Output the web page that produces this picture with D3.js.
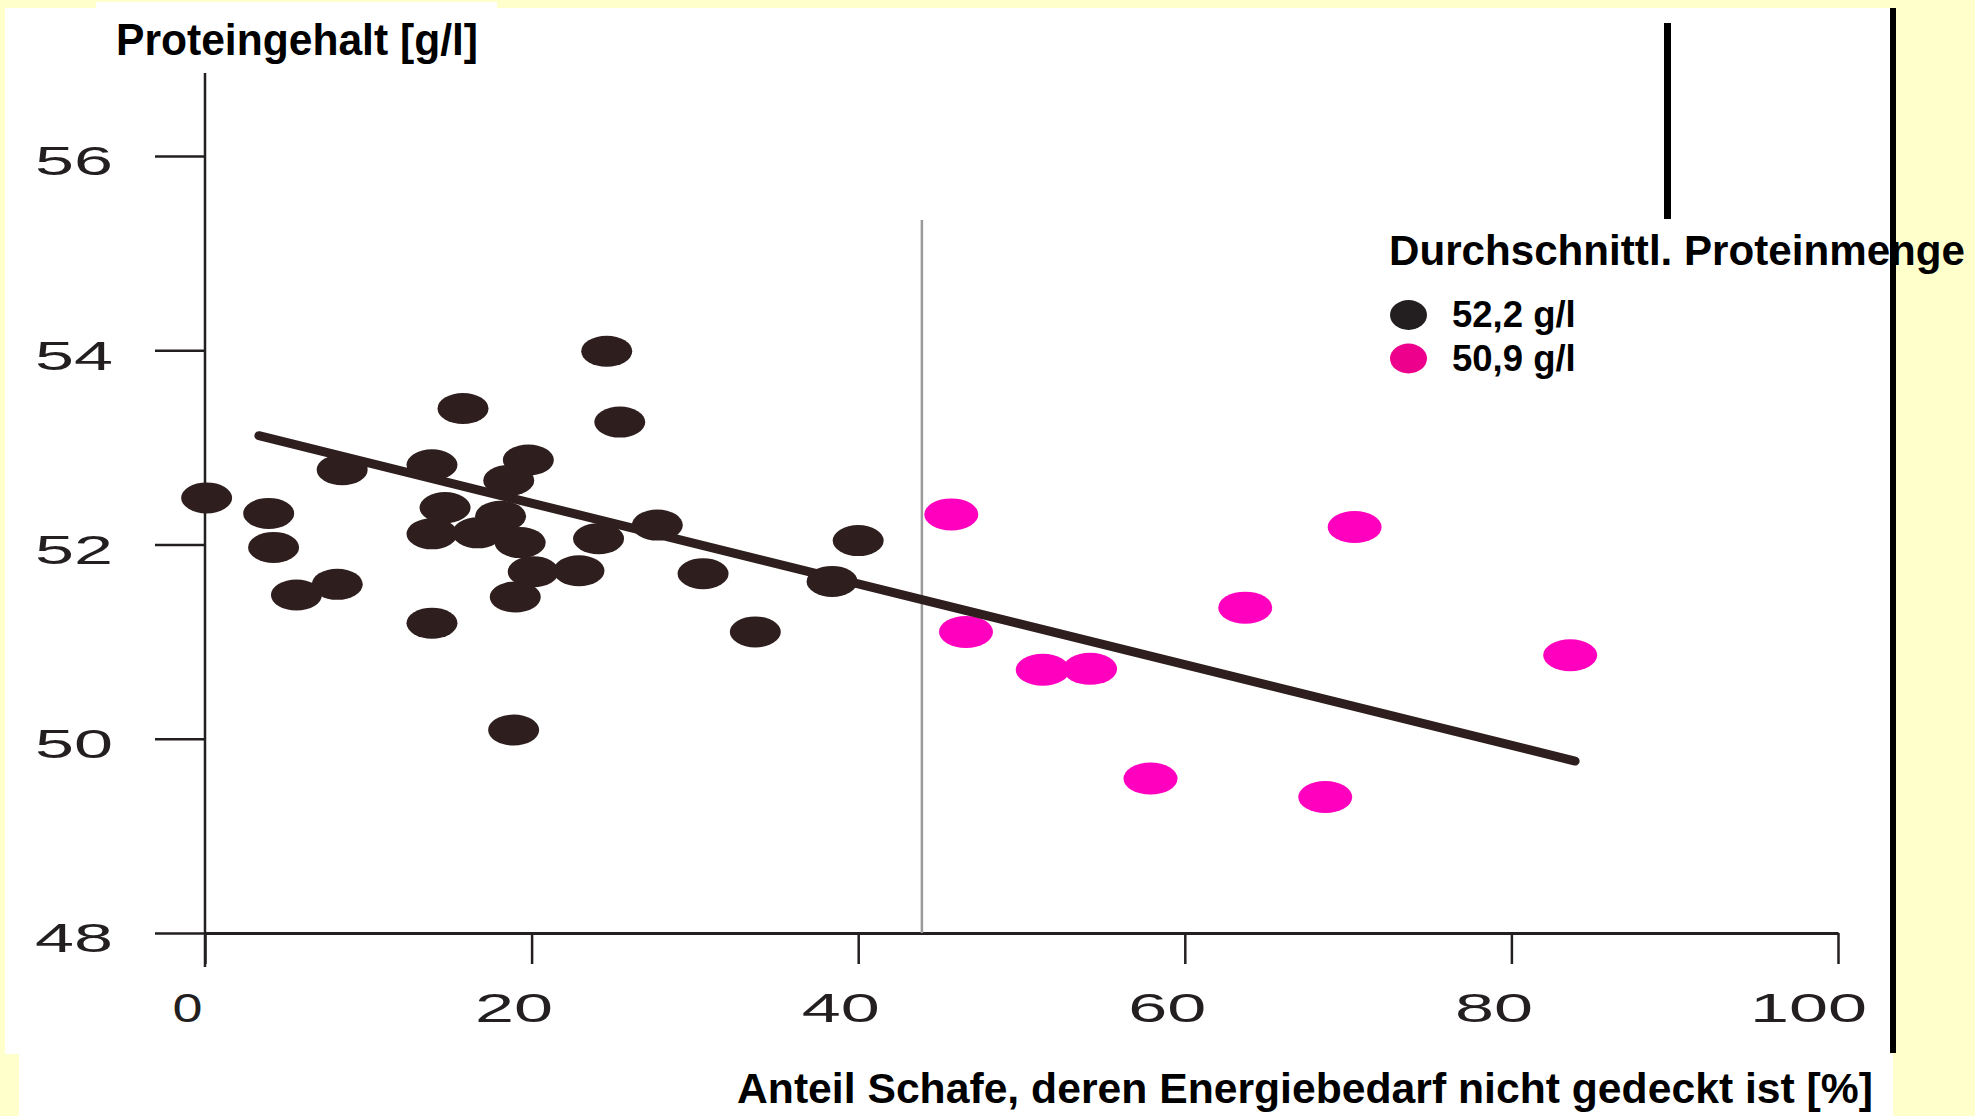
<!DOCTYPE html>
<html>
<head>
<meta charset="utf-8">
<script src="https://cdn.jsdelivr.net/npm/d3@7"></script>
<style>
  body { margin: 0; background: #ffffcc; }
  svg { display: block; }
  .tick text { font-family: "Liberation Sans", Arial, sans-serif; fill: #231f20; }
  .ttl { font-family: "Liberation Sans", Arial, sans-serif; font-weight: bold; fill: #000; }
</style>
</head>
<body>
<div id="vis"></div>
<script>
// sheep with energy deficit (%) vs protein content (g/l)
const darkX = [15.8, 25.4, 8.4, 13.9, 19.8, 18.6, 0.1, 3.9, 14.7, 18.1, 4.2, 13.9, 16.7, 19.3,
  24.1, 27.7, 40.0, 8.1, 5.6, 20.1, 22.9, 30.5, 38.4, 19.0, 13.9, 33.7, 18.9, 24.6];
const darkY = [53.40, 53.26, 52.77, 52.82, 52.87, 52.66, 52.48, 52.32, 52.38, 52.29, 51.97, 52.11, 52.12, 52.02,
  52.06, 52.20, 52.04, 51.59, 51.48, 51.72, 51.73, 51.70, 51.62, 51.46, 51.19, 51.10, 50.09, 53.99];
const pinkX = [45.7, 70.4, 63.7, 46.6, 83.6, 51.3, 54.2, 57.9, 68.6];
const pinkY = [52.31, 52.18, 51.35, 51.10, 50.86, 50.71, 50.72, 49.59, 49.40];
const trendX = [3.3, 83.9];
const trendY = [53.12, 49.77];
const cutoffX = 43.9, cutoffTop = 55.34;
const xTicks = [0, 20, 40, 60, 80, 100];
const yTicks = [48, 50, 52, 54, 56];
const legendLabels = ['52,2 g/l', '50,9 g/l'];

const W = 1975, H = 1116;
const svg = d3.select('#vis').append('svg').attr('width', W).attr('height', H);

// slide background pieces
svg.append('rect').attr('x', 5).attr('y', 8).attr('width', 1885).attr('height', 1046).attr('fill', '#fff');
svg.append('rect').attr('x', 96).attr('y', 2).attr('width', 401).attr('height', 10).attr('fill', '#fff');
svg.append('rect').attr('x', 19).attr('y', 1054).attr('width', 1874).attr('height', 62).attr('fill', '#fff');

const x = d3.scaleLinear().domain([0, 100]).range([205, 1838]);
const y = d3.scaleLinear().domain([48, 56]).range([933, 156]);

// y axis
const yAxis = svg.append('g')
    .attr('transform', `translate(${x(0)},0)`)
    .call(d3.axisLeft(y).tickValues(yTicks).tickSize(50).tickPadding(42).tickFormat(d3.format('d')));
yAxis.select('.domain').remove();
yAxis.selectAll('.tick line').attr('stroke', '#231f20').attr('stroke-width', 2.5);
yAxis.selectAll('.tick text')
    .attr('font-size', 40).attr('dy', '0.47em')
    .attr('textLength', d => String(d).length * 39).attr('lengthAdjust', 'spacingAndGlyphs');
svg.append('line')
    .attr('x1', x(0)).attr('x2', x(0)).attr('y1', 73).attr('y2', 967)
    .attr('stroke', '#231f20').attr('stroke-width', 2.5);

// x axis
const xAxis = svg.append('g')
    .attr('transform', `translate(0,${y(48)})`)
    .call(d3.axisBottom(x).tickValues(xTicks).tickSize(31).tickSizeOuter(0));
xAxis.select('.domain').attr('stroke', '#231f20').attr('stroke-width', 3);
xAxis.selectAll('.tick line').attr('stroke', '#231f20').attr('stroke-width', 2.5);
xAxis.selectAll('.tick text')
    .attr('font-size', 40).attr('y', 89).attr('dy', 0)
    .attr('x', d => String(d).length > 2 ? -30 : -18)
    .attr('textLength', d => String(d).length === 1 ? 30 : String(d).length * 39)
    .attr('lengthAdjust', 'spacingAndGlyphs');

// cutoff line
svg.append('line')
    .attr('x1', x(cutoffX)).attr('x2', x(cutoffX))
    .attr('y1', y(cutoffTop)).attr('y2', y(48))
    .attr('stroke', '#9a9a9a').attr('stroke-width', 2.5);

// points
svg.selectAll('.dark')
    .data(darkX.map((d, i) => [d, darkY[i]]))
    .join('ellipse')
    .attr('class', 'dark')
    .attr('cx', d => x(d[0])).attr('cy', d => y(d[1]))
    .attr('rx', 25.5).attr('ry', 15.5)
    .attr('fill', '#2e1f1e');

svg.selectAll('.pink')
    .data(pinkX.map((d, i) => [d, pinkY[i]]))
    .join('ellipse')
    .attr('class', 'pink')
    .attr('cx', d => x(d[0])).attr('cy', d => y(d[1]))
    .attr('rx', 27).attr('ry', 16)
    .attr('fill', '#ff00be');

// regression line
svg.append('line')
    .attr('x1', x(trendX[0])).attr('y1', y(trendY[0]))
    .attr('x2', x(trendX[1])).attr('y2', y(trendY[1]))
    .attr('stroke', '#2e1f1e').attr('stroke-width', 9).attr('stroke-linecap', 'round');

// titles
svg.append('text').attr('class', 'ttl')
    .attr('x', 116).attr('y', 55).attr('font-size', 44)
    .attr('textLength', 362).attr('lengthAdjust', 'spacingAndGlyphs')
    .text('Proteingehalt [g/l]');
svg.append('text').attr('class', 'ttl')
    .attr('x', 737).attr('y', 1103).attr('font-size', 43)
    .attr('textLength', 1136).attr('lengthAdjust', 'spacingAndGlyphs')
    .text('Anteil Schafe, deren Energiebedarf nicht gedeckt ist [%]');

// legend
svg.append('text').attr('class', 'ttl')
    .attr('x', 1389).attr('y', 265).attr('font-size', 42.5)
    .attr('textLength', 576).attr('lengthAdjust', 'spacingAndGlyphs')
    .text('Durchschnittl. Proteinmenge');
const legColors = ['#231f20', '#ec008c'];
legendLabels.forEach((lab, i) => {
    const cy = 315 + i * 43.5;
    svg.append('ellipse')
        .attr('cx', 1408.5).attr('cy', cy).attr('rx', 18.5).attr('ry', 15)
        .attr('fill', legColors[i]);
    svg.append('text').attr('class', 'ttl')
        .attr('x', 1452).attr('y', cy + 12).attr('font-size', 36.5)
        .text(lab);
});

// slide frame lines
svg.append('rect').attr('x', 1664).attr('y', 23).attr('width', 7).attr('height', 196).attr('fill', '#000');
svg.append('rect').attr('x', 1890).attr('y', 8).attr('width', 6).attr('height', 1045).attr('fill', '#000');
</script>
</body>
</html>
